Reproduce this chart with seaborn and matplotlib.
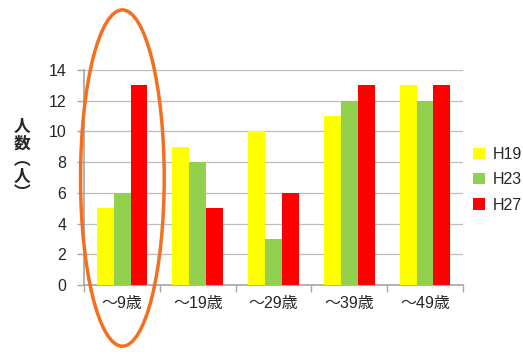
import pandas as pd
import matplotlib.pyplot as plt
import seaborn as sns
from matplotlib.patches import Ellipse

# values
ages = ['～9歳', '～19歳', '～29歳', '～39歳', '～49歳']
h19 = [5, 9, 10, 11, 13]
h23 = [6, 8, 3, 12, 12]
h27 = [13, 5, 6, 13, 13]
series = ['H19', 'H23', 'H27']
colors = ['#FFFF00', '#92D050', '#FF0000']

data = pd.DataFrame({
    'age': ages * 3,
    'year': [s for s in series for _ in ages],
    'count': h19 + h23 + h27,
})

sns.set_theme(style="white")
plt.rcParams['font.family'] = ['Liberation Sans', 'Noto Sans CJK JP', 'DejaVu Sans']

fig = plt.figure(figsize=(5.23, 3.54), dpi=100)
ax = fig.add_axes([0.161, 0.195, 0.724, 0.607])

sns.barplot(data=data, x='age', y='count', hue='year', palette=colors,
            width=0.67, saturation=1, linewidth=0, ax=ax, zorder=3)

ax.set_ylim(0, 14)
ax.set_yticks(range(0, 15, 2))
ax.set_xlim(-0.5, 4.5)
ax.yaxis.grid(True, color='#BDBDBD', linewidth=0.9, zorder=0)
ax.set_axisbelow(True)
for side in ['top', 'right']:
    ax.spines[side].set_visible(False)
for side in ['left', 'bottom']:
    ax.spines[side].set_color('#A6A6A6')
    ax.spines[side].set_linewidth(1.2)

# ticks: outward on y, category boundaries on x
ax.tick_params(axis='y', length=5, color='#A6A6A6', width=1, left=True,
               labelsize=11.5, pad=8)
ax.set_xticks([i - 0.5 for i in range(6)], minor=True)
ax.tick_params(axis='x', which='minor', length=5, color='#A6A6A6', bottom=True)
ax.tick_params(axis='x', which='major', length=0, labelsize=11.5, pad=8)
ax.set_xlabel('')
ax.set_ylabel('')

fig.text(0.042, 0.548, '人\n数\n︵\n人\n︶', ha='center', va='center',
         fontsize=12, linespacing=0.9, fontweight='bold',
         family='Noto Sans CJK JP')

leg = ax.legend(loc='center left', bbox_to_anchor=(0.99, 0.49), frameon=False,
                fontsize=11.5, handlelength=0.7, handleheight=0.7,
                handletextpad=0.5, labelspacing=0.65)

# orange ellipse around the first group
ell = Ellipse((0.234, 0.497), width=0.16, height=0.95, transform=fig.transFigure,
              fill=False, edgecolor='#F37021', linewidth=2.5, clip_on=False)
fig.add_artist(ell)

plt.savefig('out.png', dpi=100)
